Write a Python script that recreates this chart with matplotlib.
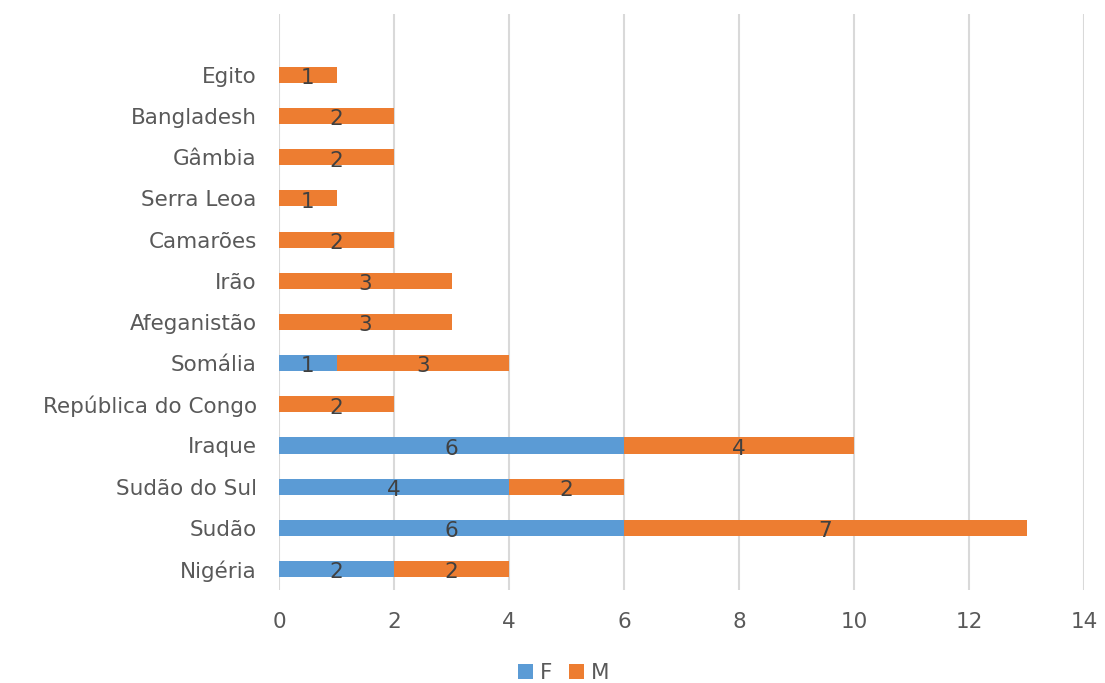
import matplotlib
matplotlib.use("Agg")
import matplotlib.pyplot as plt

# data, bottom to top as drawn
countries = ["Nigéria", "Sudão", "Sudão do Sul", "Iraque", "República do Congo",
             "Somália", "Afeganistão", "Irão", "Camarões", "Serra Leoa",
             "Gâmbia", "Bangladesh", "Egito"]
f_vals = [2, 6, 4, 6, 0, 1, 0, 0, 0, 0, 0, 0, 0]
m_vals = [2, 7, 2, 4, 2, 3, 3, 3, 2, 1, 2, 2, 1]
xticks = [0, 2, 4, 6, 8, 10, 12, 14]

BLUE, ORANGE = "#5B9BD5", "#ED7D31"
plt.rcParams["font.family"] = ["DejaVu Sans"]
FS = 15.5

fig = plt.figure(figsize=(11.05, 6.83), dpi=100)
ax = fig.add_axes([279 / 1105, 93 / 683, 805 / 1105, 576 / 683])

ys = list(range(len(countries)))
h = 0.39
bf = ax.barh(ys, f_vals, height=h, color=BLUE, label="F", zorder=3)
bm = ax.barh(ys, m_vals, left=f_vals, height=h, color=ORANGE, label="M", zorder=3)

for y, f, m in zip(ys, f_vals, m_vals):
    if f:
        ax.text(f / 2, y - 0.08, str(f), ha="center", va="center",
                fontsize=FS, color="#404040", zorder=4)
    if m:
        ax.text(f + m / 2, y - 0.08, str(m), ha="center", va="center",
                fontsize=FS, color="#404040", zorder=4)

ax.set_xlim(0, 14)
ax.set_ylim(-0.51, 13.48)
ax.set_xticks(xticks)
ax.set_yticks(ys)
ax.set_yticklabels(countries)
ax.tick_params(axis="both", length=0, labelsize=FS, labelcolor="#595959")
ax.tick_params(axis="x", pad=16)
ax.tick_params(axis="y", pad=16)
ax.grid(axis="x", color="#D9D9D9", lw=1.5, zorder=0)
for s in ax.spines.values():
    s.set_visible(False)

fig.legend(handles=[bf, bm], labels=["F", "M"], loc="center",
           bbox_to_anchor=(0.51, 0.015), ncol=2, frameon=False,
           fontsize=FS, labelcolor="#595959", handlelength=0.7,
           handleheight=0.7, handletextpad=0.3, columnspacing=0.8)

fig.savefig("out.png", dpi=100)
